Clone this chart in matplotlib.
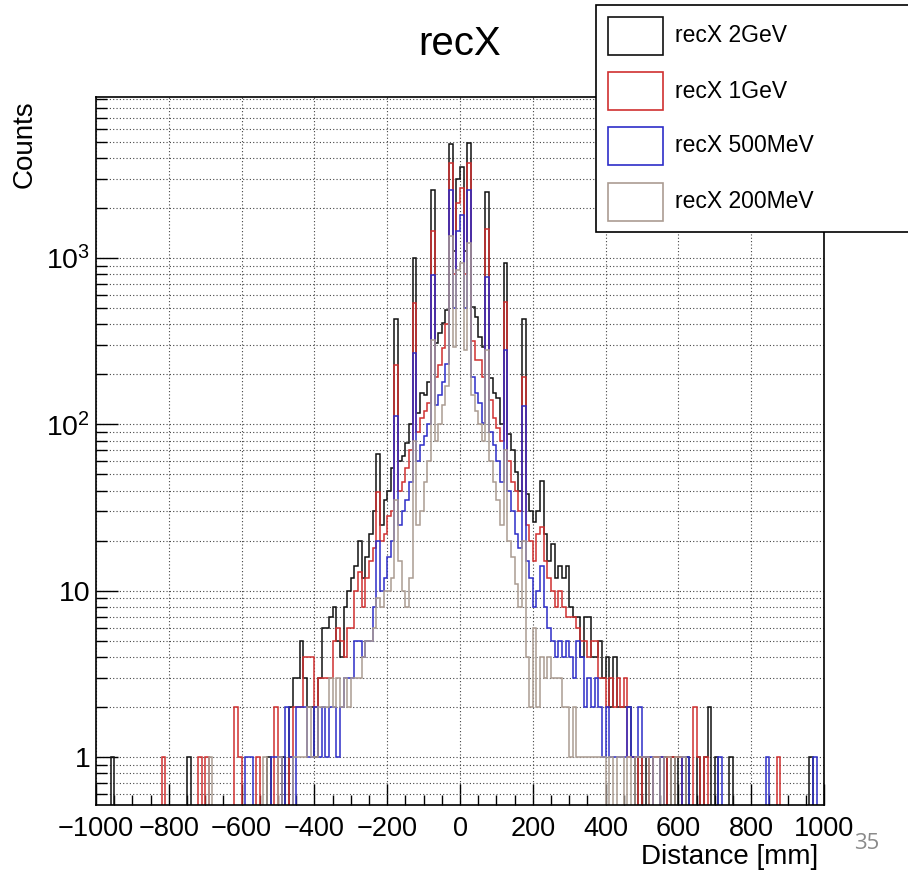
import numpy as np
import matplotlib
matplotlib.use("Agg")
import matplotlib.pyplot as plt
from matplotlib.patches import Rectangle
from matplotlib.ticker import FixedLocator, FuncFormatter, MultipleLocator

plt.rcParams['font.family'] = ['Liberation Sans', 'DejaVu Sans']
plt.rcParams['mathtext.default'] = 'regular'

# 200 bins of 10 mm from -1000 to 1000 mm
bin_edges = np.arange(-1000, 1001, 10)

labels = ["recX 2GeV", "recX 1GeV", "recX 500MeV", "recX 200MeV"]
colors = ["#111111", "#d03030", "#2e2ec8", "#ab9c92"]

counts_2gev = [
    0, 0, 0, 0, 1, 0, 0, 0, 0, 0, 0, 0, 0, 0, 0, 0, 0, 0, 0, 0,
    0, 0, 0, 0, 0, 1, 0, 0, 0, 0, 0, 0, 0, 0, 0, 0, 0, 0, 0, 0,
    0, 0, 0, 0, 0, 0, 0, 1, 0, 0, 0, 1, 0, 2, 3, 3, 5, 3, 2, 2,
    1, 3, 6, 6, 7, 8, 5, 4, 8, 10, 12, 14, 20, 12, 16, 22, 30, 66, 25, 35,
    40, 55, 430, 60, 65, 77, 100, 1000, 117, 155, 150, 180, 2560, 308, 355, 407, 487, 4840, 1100, 3000,
    3540, 1100, 4900, 511, 444, 337, 293, 2490, 190, 155, 145, 100, 930, 88, 70, 52, 40, 430, 38, 30,
    26, 30, 46, 22, 15, 19, 12, 14, 12, 14, 8, 7, 7, 4, 7, 7, 4, 4, 5, 3,
    4, 2, 4, 2, 2, 2, 2, 1, 0, 1, 0, 1, 0, 1, 1, 0, 1, 0, 1, 0,
    1, 0, 1, 0, 0, 1, 0, 1, 2, 0, 1, 0, 0, 0, 1, 0, 0, 0, 0, 0,
    0, 0, 0, 0, 0, 0, 0, 0, 0, 0, 0, 0, 0, 0, 0, 0, 1, 0, 0, 0,
]

counts_1gev = [
    0, 0, 0, 0, 0, 0, 0, 0, 0, 0, 0, 0, 0, 0, 0, 0, 0, 0, 1, 0,
    0, 0, 0, 0, 0, 0, 0, 0, 1, 0, 1, 0, 0, 0, 0, 0, 0, 0, 2, 1,
    0, 0, 0, 0, 1, 0, 0, 0, 0, 2, 0, 0, 0, 1, 2, 2, 2, 4, 4, 4,
    2, 3, 3, 3, 3, 5, 6, 5, 4, 6, 6, 10, 13, 8, 12, 15, 18, 39, 20, 22,
    28, 30, 228, 40, 45, 55, 70, 536, 90, 110, 120, 135, 1450, 193, 228, 290, 400, 3720, 800, 2140,
    2630, 800, 3720, 318, 244, 244, 194, 1490, 140, 110, 95, 80, 545, 60, 45, 40, 30, 193, 25, 20,
    15, 22, 24, 15, 12, 10, 8, 10, 8, 7, 7, 7, 6, 5, 5, 4, 5, 5, 3, 3,
    2, 3, 2, 3, 2, 3, 1, 1, 1, 0, 1, 1, 0, 1, 1, 1, 0, 1, 1, 1,
    1, 0, 0, 0, 2, 1, 0, 1, 0, 0, 0, 0, 0, 0, 0, 0, 0, 0, 0, 0,
    0, 0, 0, 0, 0, 0, 0, 1, 0, 0, 0, 0, 0, 0, 0, 0, 0, 0, 0, 0,
]

counts_500mev = [
    0, 0, 0, 0, 0, 0, 0, 0, 0, 0, 0, 0, 0, 0, 0, 0, 0, 0, 0, 0,
    0, 0, 0, 0, 0, 0, 0, 0, 0, 0, 0, 0, 0, 0, 0, 0, 0, 0, 0, 0,
    0, 1, 1, 0, 0, 0, 0, 0, 1, 1, 1, 0, 2, 1, 0, 2, 2, 2, 1, 1,
    2, 1, 2, 1, 2, 2, 1, 2, 3, 3, 3, 5, 5, 4, 5, 5, 8, 20, 10, 12,
    16, 20, 113, 25, 30, 35, 45, 270, 60, 75, 85, 100, 790, 130, 150, 180, 230, 2560, 500, 1460,
    1810, 500, 2560, 194, 154, 134, 102, 770, 90, 75, 60, 45, 280, 40, 30, 22, 18, 129, 15, 12,
    8, 10, 14, 8, 6, 5, 4, 5, 4, 5, 4, 3, 5, 4, 2, 3, 2, 3, 2, 1,
    2, 1, 1, 1, 1, 1, 2, 1, 1, 2, 1, 1, 1, 0, 0, 1, 0, 0, 0, 0,
    0, 1, 1, 0, 0, 0, 0, 0, 0, 0, 0, 1, 0, 0, 0, 0, 0, 0, 0, 0,
    0, 0, 0, 0, 1, 0, 0, 0, 0, 0, 0, 0, 0, 0, 0, 0, 0, 1, 0, 0,
]

counts_200mev = [
    0, 0, 0, 0, 0, 0, 0, 0, 0, 0, 0, 0, 0, 0, 0, 0, 0, 0, 0, 0,
    0, 0, 0, 0, 0, 0, 0, 0, 0, 0, 0, 1, 0, 0, 0, 0, 0, 0, 0, 0,
    0, 0, 0, 0, 0, 0, 1, 0, 0, 0, 1, 0, 0, 0, 1, 1, 1, 1, 2, 1,
    1, 2, 2, 2, 3, 2, 3, 2, 3, 2, 3, 3, 3, 4, 5, 5, 6, 9, 8, 10,
    10, 12, 35, 15, 10, 8, 12, 80, 25, 30, 45, 60, 320, 80, 100, 130, 170, 1360, 293, 850,
    930, 280, 1230, 150, 120, 100, 80, 280, 60, 45, 35, 25, 70, 20, 16, 11, 8, 20, 4, 2,
    6, 2, 4, 3, 4, 3, 3, 3, 2, 2, 1, 2, 1, 1, 1, 1, 1, 1, 1, 1,
    0, 1, 0, 1, 1, 0, 1, 0, 1, 1, 1, 1, 0, 1, 1, 0, 1, 1, 0, 1,
    1, 1, 0, 0, 0, 0, 0, 0, 0, 0, 0, 0, 0, 0, 0, 0, 0, 0, 0, 0,
    0, 0, 0, 0, 0, 0, 0, 0, 0, 0, 0, 0, 0, 0, 0, 0, 0, 0, 0, 0,
]

series = [counts_2gev, counts_1gev, counts_500mev, counts_200mev]

W, H = 908, 871
fig = plt.figure(figsize=(W / 100, H / 100), dpi=100)


def fx(px):
    return px / W


def fy(py):
    return 1 - py / H


ax = fig.add_axes([fx(96), fy(805), fx(824) - fx(96), fy(97) - fy(805)])
ax.set_yscale("log")
ax.set_xlim(-1000, 1000)
ax.set_ylim(0.515, 9300)

for vals, col in zip(series, colors):
    v = np.array(vals, dtype=float)
    v[v <= 0] = 1e-2  # empty bins drop below the frame like in ROOT
    ax.stairs(v, bin_edges, color=col, linewidth=1.1, baseline=None)

# axes ticks / grid
ax.xaxis.set_major_locator(MultipleLocator(200))
ax.xaxis.set_minor_locator(MultipleLocator(50))
ax.yaxis.set_major_locator(FixedLocator([1, 10, 100, 1000]))
minor_y = [m * 10 ** e for e in range(-1, 4) for m in range(2, 10)]
ax.yaxis.set_minor_locator(FixedLocator([v for v in minor_y if 0.515 < v < 9300]))


def ylab(v, pos):
    if v < 5:
        return "1"
    if v < 50:
        return "10"
    return "10$^{%d}$" % int(round(np.log10(v)))


ax.yaxis.set_major_formatter(FuncFormatter(ylab))
ax.yaxis.set_minor_formatter(FuncFormatter(lambda v, p: ""))

ax.tick_params(axis="x", which="major", direction="in", length=15, width=1,
               labelsize=19.5, pad=8, top=False)
ax.tick_params(axis="x", which="minor", direction="in", length=7.5, width=1, top=False)
ax.tick_params(axis="y", which="major", direction="in", length=16, width=1,
               labelsize=20.5, pad=4, right=False)
ax.tick_params(axis="y", which="minor", direction="in", length=8, width=1, right=False)

ax.grid(True, which="major", axis="x", color="#444444", linestyle=(0, (1, 2)), linewidth=0.8)
ax.grid(True, which="both", axis="y", color="#444444", linestyle=(0, (1, 2)), linewidth=0.8)
ax.set_axisbelow(True)
for s in ax.spines.values():
    s.set_linewidth(1.2)

fig.text(fx(460), fy(44), "recX", fontsize=29, ha="center", va="center")
fig.text(fx(818), fy(857), "Distance [mm]", fontsize=20, ha="right", va="center")
fig.text(fx(25), fy(100), "Counts", fontsize=20, rotation=90, ha="center", va="top")
fig.text(fx(867), fy(843), "35", fontsize=16, color="#8a8a8a", ha="center", va="center",
         family=["Open Sans", "DejaVu Sans"])

# legend box (ROOT TLegend, partly cut off at the right)
fig.patches.append(Rectangle((fx(596), fy(232)), fx(930) - fx(596), fy(5) - fy(232),
                             transform=fig.transFigure, facecolor="white",
                             edgecolor="black", linewidth=1.2, zorder=5))
entry_y = [36, 91, 146, 202]
for lab, col, yc in zip(labels, colors, entry_y):
    fig.patches.append(Rectangle((fx(608), fy(yc + 19)), fx(663) - fx(608), fy(yc - 19) - fy(yc + 19),
                                 transform=fig.transFigure, facecolor="white",
                                 edgecolor=col, linewidth=1.2, zorder=6))
    fig.text(fx(675), fy(yc), lab, fontsize=16.5, ha="left", va="center", zorder=7)

fig.savefig("out.png", dpi=100)
